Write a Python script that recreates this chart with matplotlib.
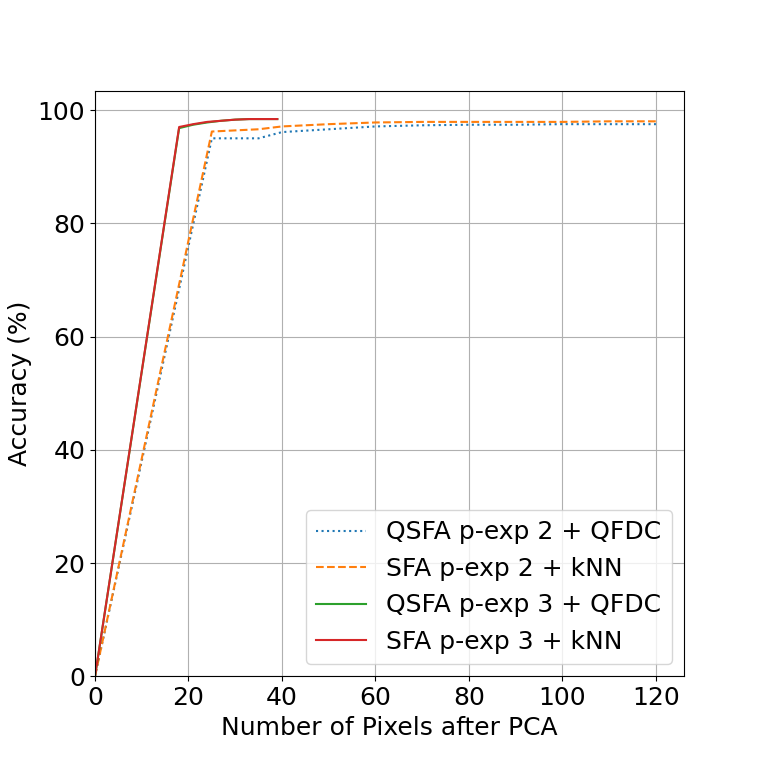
import matplotlib
matplotlib.use("Agg")
import matplotlib.pyplot as plt

x_p2 = [0, 25, 35, 40, 50, 60, 70, 80, 90, 100, 110, 120]
qsfa_p2 = [0, 95.0, 95.0, 96.1, 96.6, 97.1, 97.3, 97.4, 97.4, 97.5, 97.5, 97.5]
sfa_p2 = [0, 96.2, 96.6, 97.1, 97.5, 97.8, 97.9, 97.9, 97.9, 97.9, 98.0, 98.0]

x_p3 = [0, 18, 21, 24, 27, 30, 33, 36, 39]
qsfa_p3 = [0, 96.8, 97.4, 97.8, 98.1, 98.3, 98.4, 98.4, 98.4]
sfa_p3 = [0, 97.0, 97.5, 97.9, 98.1, 98.3, 98.4, 98.4, 98.4]

labels = ["QSFA p-exp 2 + QFDC", "SFA p-exp 2 + kNN",
          "QSFA p-exp 3 + QFDC", "SFA p-exp 3 + kNN"]

plt.rcParams["font.size"] = 18
fig, ax = plt.subplots(figsize=(7.6, 7.6), dpi=100)
ax.plot(x_p2, qsfa_p2, ":", label=labels[0], color="C0")
ax.plot(x_p2, sfa_p2, "--", label=labels[1], color="C1")
ax.plot(x_p3, qsfa_p3, "-", label=labels[2], color="C2")
ax.plot(x_p3, sfa_p3, "-", label=labels[3], color="C3")
ax.set_xlim(left=0)
ax.set_ylim(bottom=0)
ax.set_xlabel("Number of Pixels after PCA")
ax.set_ylabel("Accuracy (%)")
ax.grid(True)
ax.legend(loc="lower right")
fig.savefig("out.png")
